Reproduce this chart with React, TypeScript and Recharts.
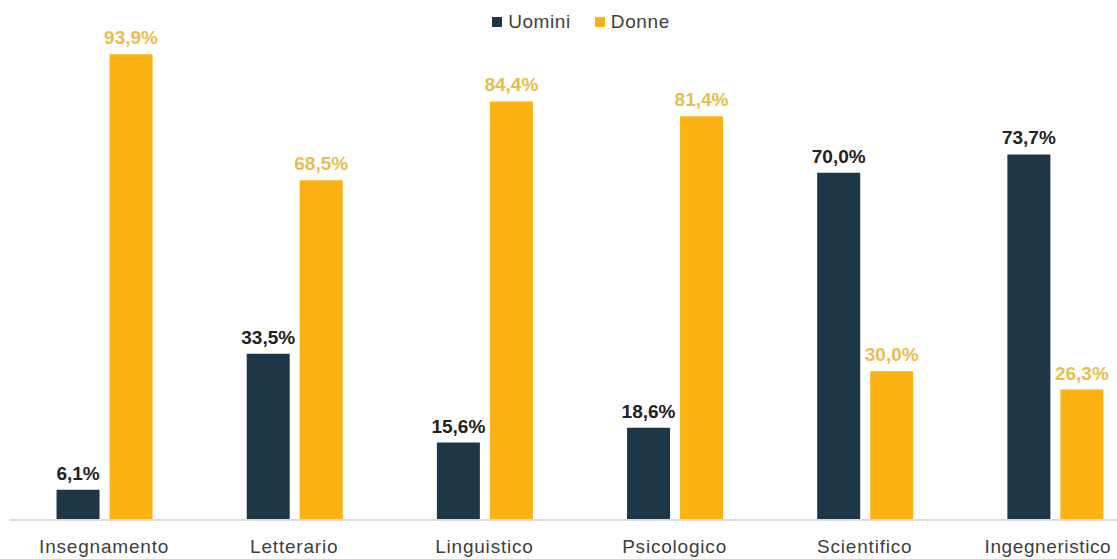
import React from "react";
import { BarChart, Bar, XAxis, YAxis, Legend, LabelList } from "recharts";

const categories = ["Insegnamento", "Letterario", "Linguistico", "Psicologico", "Scientifico", "Ingegneristico"];
const uomini = [6.1, 33.5, 15.6, 18.6, 70.0, 73.7];
const donne = [93.9, 68.5, 84.4, 81.4, 30.0, 26.3];
const seriesNames = ["Uomini", "Donne"];

const data = categories.map((c, i) => ({ name: c, Uomini: uomini[i], Donne: donne[i] }));

const fmt = (v: any) => `${Number(v).toFixed(1).replace(".", ",")}%`;

const DARK = "#1d3747";
const GOLD = "#fbb314";
const FONT = "'Liberation Sans', Arial, sans-serif";
const colors: Record<string, string> = { Uomini: DARK, Donne: GOLD };

const LegendContent = () => (
  <div style={{ display: "flex", justifyContent: "center", alignItems: "center", fontFamily: FONT, fontSize: 19, color: "#404040", letterSpacing: 0.6 }}>
    {seriesNames.map((n, i) => (
      <div key={n} style={{ display: "flex", alignItems: "center", marginRight: i === 0 ? 24 : 0 }}>
        <span style={{ display: "inline-block", width: 10, height: 10, background: colors[n], marginRight: 6 }} />
        <span>{n}</span>
      </div>
    ))}
  </div>
);

const CategoryTick = (props: any) => {
  const { x, y, payload, index } = props;
  const last = index === categories.length - 1;
  return (
    <text
      x={x}
      y={y}
      dy="0.71em"
      dx={last ? -7 : 0}
      textAnchor="middle"
      fill="#404040"
      fontSize={19}
      fontFamily={FONT}
      letterSpacing={last ? 0.6 : 0.8}
    >
      {payload.value}
    </text>
  );
};

export default function App() {
  return (
    <div style={{ position: "fixed", left: 0, top: 0, width: 1117, height: 559, overflow: "hidden", background: "#fff", fontFamily: FONT }}>
      <BarChart
        width={1160}
        height={559}
        data={data}
        margin={{ top: 24, right: 10, bottom: 0, left: 9 }}
        barCategoryGap="25%"
        barGap={10}
      >
        <XAxis
          dataKey="name"
          height={39}
          axisLine={{ stroke: "#d9d9d9", strokeWidth: 2 }}
          tickLine={false}
          interval={0}
          tick={<CategoryTick />}
          tickMargin={14}
        />
        <YAxis hide domain={[0, 100]} />
        <Legend
          verticalAlign="middle"
          align="center"
          layout="horizontal"
          content={<LegendContent />}
          wrapperStyle={{ top: 11, left: 481, width: 200, height: 24 }}
        />
        <Bar dataKey="Uomini" fill={DARK} isAnimationActive={false}>
          <LabelList dataKey="Uomini" position="top" offset={10} formatter={fmt} fill="#222" fontSize={19} fontWeight="bold" fontFamily={FONT} />
        </Bar>
        <Bar dataKey="Donne" fill={GOLD} isAnimationActive={false}>
          <LabelList dataKey="Donne" position="top" offset={10} formatter={fmt} fill="#e8be4c" fontSize={19} fontWeight="bold" fontFamily={FONT} />
        </Bar>
      </BarChart>
    </div>
  );
}
